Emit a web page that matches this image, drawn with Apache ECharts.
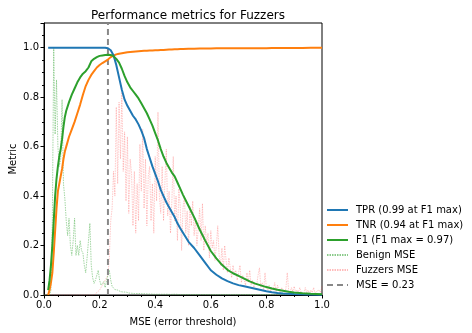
<!DOCTYPE html>
<html>
<head>
<meta charset="utf-8">
<script src="https://cdn.jsdelivr.net/npm/echarts@6/dist/echarts.min.js"></script>
<style>
html, body { margin: 0; padding: 0; background: #fff; }
#main { width: 472px; height: 333px; }
</style>
</head>
<body>
<div id="main"></div>
<script>
var thresholds = [0.015,0.02,0.025,0.03,0.035,0.04,0.045,0.05,0.055,0.06,0.065,0.07,0.075,0.08,
  0.09,0.10,0.11,0.12,0.13,0.14,0.15,0.16,0.17,0.18,0.19,0.20,0.21,
  0.22,0.23,0.24,0.25,0.26,0.27,0.28,0.29,0.30,0.31,0.32,0.33,0.34,0.35,0.36,0.37,0.38,0.39,0.40,
  0.41,0.42,0.43,0.44,0.45,0.46,0.47,0.48,0.49,0.50,
  0.52,0.54,0.56,0.58,0.60,0.62,0.64,0.66,0.68,0.70,0.72,0.74,0.76,0.78,0.80,
  0.82,0.84,0.86,0.88,0.90,0.93,0.96,1.0]
var tpr = [1,1,1,1,1,1,1,1,1,1,1,1,1,1,
  1,1,1,1,1,1,1,1,1,1,1,1,1,
  1.0,0.998,0.99,0.97,0.93,0.88,0.83,0.79,0.765,0.745,0.725,0.71,0.69,0.665,0.635,0.59,0.555,0.52,0.49,
  0.46,0.425,0.40,0.375,0.355,0.335,0.315,0.29,0.27,0.252,
  0.215,0.19,0.16,0.13,0.10,0.082,0.067,0.056,0.047,0.04,0.035,0.03,0.025,0.02,0.015,
  0.011,0.008,0.006,0.005,0.004,0.003,0.002,0.001]
var tnr = [0,0.02,0.05,0.09,0.17,0.26,0.35,0.42,0.45,0.48,0.51,0.55,0.58,0.6,
  0.64,0.67,0.70,0.735,0.77,0.81,0.845,0.87,0.89,0.905,0.92,0.93,0.938,
  0.945,0.952,0.962,0.968,0.973,0.976,0.978,0.98,0.982,0.983,0.984,0.985,0.986,0.987,0.988,0.988,0.989,0.989,0.99,
  0.99,0.991,0.991,0.992,0.993,0.993,0.994,0.994,0.995,0.995,
  0.996,0.996,0.997,0.997,0.997,0.998,0.998,0.998,0.998,0.998,0.998,0.998,0.998,0.998,0.998,
  0.999,0.999,0.999,0.999,0.999,0.999,1.0,1.0]
var f1 = [0.02,0.06,0.12,0.2,0.3,0.4,0.47,0.52,0.56,0.59,0.63,0.68,0.72,0.745,
  0.78,0.81,0.835,0.86,0.88,0.895,0.905,0.92,0.945,0.955,0.962,0.967,0.969,
  0.971,0.972,0.971,0.966,0.955,0.94,0.915,0.885,0.86,0.84,0.825,0.81,0.795,0.775,0.755,0.735,0.71,0.685,0.655,
  0.625,0.59,0.56,0.535,0.515,0.495,0.48,0.455,0.43,0.405,
  0.36,0.315,0.265,0.22,0.178,0.148,0.122,0.102,0.088,0.077,0.066,0.055,0.046,0.039,0.032,
  0.026,0.021,0.017,0.013,0.01,0.007,0.005,0.003]

// MSE histograms, one value every 0.005 from 0 to 1
var mseStep = 0.005
var benignMse = [0,0,0,0,0,0.02,0.3,1.0,0.65,0.87,
  0.6,0.52,0.55,0.79,0.45,0.39,0.30,0.24,0.31,0.2,
  0.16,0.22,0.31,0.16,0.2,0.16,0.22,0.18,0.17,0.12,
  0.09,0.15,0.22,0.29,0.12,0.07,0.047,0.06,0.08,0.10,
  0.06,0.04,0.045,0.054,0.03,0.06,0.08,0.10,0.06,0.035,
  0.03,0.022,0.018,0.02,0.016,0.014,0.016,0.012,0.01,0.012,
  0.01,0.008,0.009,0.007,0.008,0.006,0.007,0.006,0.005,0.006,
  0.005,0.005,0.004,0.005,0.004,0.004,0.005,0.004,0.004,0.003,
  0.004,0.003,0.004,0.003,0.003,0.003,0.004,0.003,0.003,0.003,
  0.003,0.002,0.003,0.003,0.002,0.003,0.002,0.002,0.003,0.002,
  0.002,0.002,0.002,0.002,0.002,0.002,0.002,0.002,0.002,0.002,
  0.002,0.002,0.002,0.002,0.002,0.002,0.002,0.002,0.002,0.002,
  0.002,0.002,0.002,0.002,0.002,0.002,0.002,0.002,0.002,0.002,
  0.002,0.002,0.002,0.002,0.002,0.002,0.002,0.002,0.002,0.002,
  0.002,0.002,0.002,0.002,0.002,0.002,0.002,0.002,0.002,0.002,
  0.002,0.002,0.002,0.002,0.002,0.002,0.002,0.002,0.002,0.002,
  0.002,0.002,0.002,0.002,0.002,0.002,0.002,0.002,0.002,0.002,
  0.002,0.002,0.002,0.002,0.002,0.002,0.002,0.002,0.002,0.002,
  0.002,0.002,0.002,0.002,0.002,0.002,0.002,0.002,0.002,0.002,
  0.002,0.002,0.002,0.002,0.002,0.002,0.002,0.002,0.002,0.002,
  0.002]
var fuzzersMse = [0,0,0,0,0,0,0,0,0,0,
  0,0,0,0,0,0,0,0,0,0,
  0,0,0,0,0,0,0,0,0,0,
  0,0,0,0,0,0,0,0.005,0.01,0.015,
  0.02,0.03,0.04,0.05,0.06,0.07,0.08,0.15,0.30,0.35,
  0.5,0.4,0.76,0.45,0.78,0.55,0.82,0.5,0.66,0.38,
  0.64,0.33,0.55,0.49,0.28,0.50,0.25,0.45,0.30,0.61,
  0.42,0.67,0.35,0.55,0.28,0.48,0.52,0.30,0.45,0.25,
  0.56,0.38,0.74,0.40,0.33,0.52,0.30,0.46,0.59,0.32,
  0.42,0.25,0.38,0.56,0.30,0.40,0.22,0.43,0.36,0.18,
  0.35,0.40,0.25,0.34,0.20,0.36,0.28,0.38,0.24,0.31,
  0.20,0.27,0.35,0.22,0.37,0.18,0.28,0.21,0.25,0.15,
  0.26,0.19,0.22,0.14,0.20,0.28,0.16,0.12,0.19,0.10,
  0.20,0.14,0.09,0.15,0.11,0.07,0.12,0.08,0.10,0.06,
  0.09,0.12,0.05,0.08,0.06,0.04,0.09,0.05,0.10,0.04,
  0.06,0.03,0.05,0.04,0.08,0.11,0.03,0.05,0.02,0.09,
  0.03,0.02,0.04,0.015,0.03,0.02,0.05,0.01,0.04,0.02,
  0.01,0.03,0.02,0.01,0.025,0.09,0.02,0.01,0.03,0.015,
  0.035,0.01,0.02,0.01,0.03,0.01,0.015,0.005,0.03,0.01,
  0.02,0.005,0.02,0.01,0.03,0.005,0.015,0.01,0.02,0.01,
  0.035]

var bestThreshold = 0.23
var legendNames = ['TPR (0.99 at F1 max)', 'TNR (0.94 at F1 max)', 'F1 (F1 max = 0.97)', 'Benign MSE', 'Fuzzers MSE', 'MSE = 0.23']

function pairs(xs, ys) {
  return ys.map(function (y, i) { return [xs[i], y] })
}
function histPairs(ys) {
  return ys.map(function (y, i) { return [+(i * mseStep).toFixed(3), y] })
}

var font = 'DejaVu Sans'
var myChart = echarts.init(document.getElementById('main'))
var option = {
  animation: false,
  textStyle: { fontFamily: font },
  title: {
    text: 'Performance metrics for Fuzzers',
    left: 183, top: 5, textAlign: 'center',
    textStyle: { fontFamily: font, fontSize: 12, fontWeight: 'normal', color: '#000' }
  },
  legend: {
    orient: 'vertical',
    left: 326, top: 205, padding: 0,
    itemWidth: 21, itemHeight: 10, itemGap: 5,
    itemStyle: { opacity: 0 },
    data: legendNames,
    textStyle: { fontFamily: font, fontSize: 10, color: '#000', padding: [0, 0, 0, 3] }
  },
  grid: {
    left: 44, right: 150, top: 23, bottom: 38,
    outerBoundsMode: 'none',
    show: true, borderColor: '#000', borderWidth: 1, backgroundColor: 'transparent'
  },
  xAxis: {
    type: 'value', min: 0, max: 1, interval: 0.2,
    name: 'MSE (error threshold)', nameLocation: 'middle', nameGap: 22,
    nameMoveOverlap: false,
    nameTextStyle: { fontFamily: font, fontSize: 10, color: '#000' },
    axisLine: { show: true, lineStyle: { color: '#000' } },
    axisTick: { show: true, length: 3.5, lineStyle: { color: '#000' } },
    minorTick: { show: true, splitNumber: 4, length: 2, lineStyle: { color: '#000' } },
    axisLabel: { fontSize: 10, color: '#000', margin: 5, formatter: function (v) { return v.toFixed(1) } },
    splitLine: { show: false }
  },
  yAxis: {
    type: 'value', min: 0, max: 1.1, interval: 0.2,
    name: 'Metric', nameLocation: 'middle', nameGap: 26,
    nameMoveOverlap: false,
    nameTextStyle: { fontFamily: font, fontSize: 10, color: '#000' },
    axisLine: { show: true, lineStyle: { color: '#000' } },
    axisTick: { show: true, length: 3.5, lineStyle: { color: '#000' } },
    minorTick: { show: true, splitNumber: 4, length: 2, lineStyle: { color: '#000' } },
    axisLabel: { fontSize: 10, color: '#000', margin: 5, showMaxLabel: false,
      formatter: function (v) { return v > 1.05 ? '' : v.toFixed(1) } },
    splitLine: { show: false }
  },
  series: [
    {
      name: legendNames[0], type: 'line', z: 5, showSymbol: false, symbol: 'none',
      data: pairs(thresholds, tpr),
      lineStyle: { color: '#1f77b4', width: 2 }, itemStyle: { color: '#1f77b4' }
    },
    {
      name: legendNames[1], type: 'line', z: 4, showSymbol: false, symbol: 'none',
      data: pairs(thresholds, tnr),
      lineStyle: { color: '#ff7f0e', width: 2 }, itemStyle: { color: '#ff7f0e' }
    },
    {
      name: legendNames[2], type: 'line', z: 6, showSymbol: false, symbol: 'none',
      data: pairs(thresholds, f1),
      lineStyle: { color: '#2ca02c', width: 2 }, itemStyle: { color: '#2ca02c' }
    },
    {
      name: legendNames[3], type: 'line', z: 2, showSymbol: false, symbol: 'none',
      data: histPairs(benignMse),
      lineStyle: { color: 'rgba(44,160,44,0.55)', width: 0.8, type: [1.5, 1] },
      itemStyle: { color: 'rgba(44,160,44,0.55)' }
    },
    {
      name: legendNames[4], type: 'line', z: 1, showSymbol: false, symbol: 'none',
      data: histPairs(fuzzersMse),
      lineStyle: { color: 'rgba(255,60,60,0.35)', width: 0.8, type: [1.5, 1] },
      itemStyle: { color: 'rgba(255,60,60,0.35)' }
    },
    {
      name: legendNames[5], type: 'line', z: 3, showSymbol: false, symbol: 'none',
      data: [[bestThreshold, 0], [bestThreshold, 1.1]],
      lineStyle: { color: '#888888', width: 2, type: [6, 4] },
      itemStyle: { color: '#888888' }
    }
  ]
}
myChart.setOption(option)
</script>
</body>
</html>
